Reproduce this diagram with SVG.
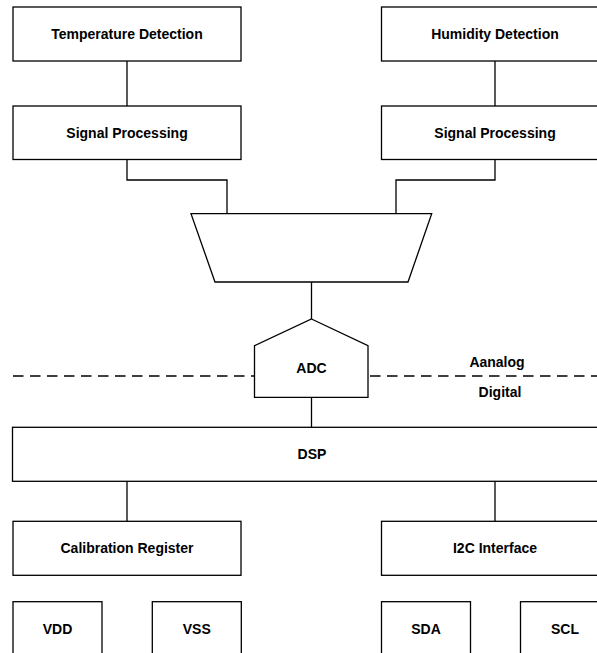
<svg xmlns="http://www.w3.org/2000/svg" width="597" height="653" viewBox="0 0 597 653">
<style>
.b{fill:#fff;stroke:#000;stroke-width:1.3}
.c{fill:none;stroke:#000;stroke-width:1.3}
.t{font-family:"Liberation Sans",Arial,sans-serif;font-weight:bold;font-size:14px;fill:#000;text-anchor:middle}
</style>
<rect width="597" height="653" fill="#fff"/>
<g id="connectors">
<path class="c" d="M127,61 V106"/>
<path class="c" d="M495,61 V106"/>
<path class="c" d="M127,159.5 V180 H227 V213.7"/>
<path class="c" d="M495,159.5 V180 H396 V213.7"/>
<path class="c" d="M311.5,282 V319"/>
<path class="c" d="M311.5,397.3 V427.3"/>
<path class="c" d="M127,481.3 V521.3"/>
<path class="c" d="M495,481.3 V521.3"/>
</g>
<g id="divider">
<line x1="13" y1="376" x2="597" y2="376" stroke="#000" stroke-width="1.3" stroke-dasharray="10.5,6.5"/>
<text class="t" x="497" y="367">Aanalog</text>
<text class="t" x="500" y="397">Digital</text>
</g>
<g id="temp-detect"><rect class="b" x="13" y="7" width="228" height="54"/><text class="t" x="127" y="39">Temperature Detection</text></g>
<g id="hum-detect"><rect class="b" x="381.5" y="7" width="228" height="54"/><text class="t" x="495" y="39">Humidity Detection</text></g>
<g id="sp-left"><rect class="b" x="13" y="106" width="228" height="53.5"/><text class="t" x="127" y="137.5">Signal Processing</text></g>
<g id="sp-right"><rect class="b" x="381.5" y="106" width="228" height="53.5"/><text class="t" x="495" y="137.5">Signal Processing</text></g>
<g id="mux"><polygon class="b" points="191,213.7 431.7,213.7 408,282 215,282"/></g>
<g id="adc"><polygon class="b" points="311.5,319 368,345.7 368,397.3 254.5,397.3 254.5,345.7"/><text class="t" x="311.5" y="373">ADC</text></g>
<g id="dsp"><rect class="b" x="12.5" y="427.3" width="599" height="54"/><text class="t" x="312" y="459">DSP</text></g>
<g id="cal-reg"><rect class="b" x="13" y="521.3" width="228" height="54"/><text class="t" x="127" y="553">Calibration Register</text></g>
<g id="i2c"><rect class="b" x="381.5" y="521.3" width="228" height="54"/><text class="t" x="495" y="553">I2C Interface</text></g>
<g id="vdd"><rect class="b" x="13" y="601.7" width="89" height="60"/><text class="t" x="57.5" y="633.5">VDD</text></g>
<g id="vss"><rect class="b" x="152.3" y="601.7" width="89" height="60"/><text class="t" x="196.8" y="633.5">VSS</text></g>
<g id="sda"><rect class="b" x="381.5" y="601.7" width="89" height="60"/><text class="t" x="426" y="633.5">SDA</text></g>
<g id="scl"><rect class="b" x="520.5" y="601.7" width="89" height="60"/><text class="t" x="565" y="633.5">SCL</text></g>
</svg>
